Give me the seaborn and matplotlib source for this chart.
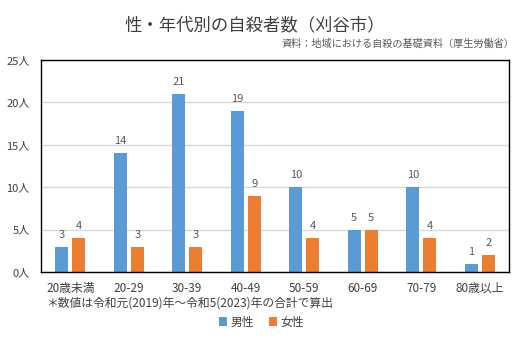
import matplotlib
matplotlib.use("Agg")
import matplotlib.pyplot as plt
import seaborn as sns
import pandas as pd

categories = ["20歳未満", "20-29", "30-39", "40-49", "50-59", "60-69", "70-79", "80歳以上"]
male = [3, 14, 21, 19, 10, 5, 10, 1]
female = [4, 3, 3, 9, 4, 5, 4, 2]
series_names = ["男性", "女性"]
yticks = [0, 5, 10, 15, 20, 25]

sns.set_theme(style="white")
plt.rcParams['font.family'] = ['Noto Sans CJK JP', 'DejaVu Sans']

df = pd.DataFrame({
    "cat": categories * 2,
    "val": male + female,
    "sex": [series_names[0]] * len(categories) + [series_names[1]] * len(categories),
})

fig = plt.figure(figsize=(5.23, 3.38), dpi=100)
ax = fig.add_axes([41/523, 1 - 272/338, (509 - 41)/523, (272 - 60)/338])

palette = {"男性": "#5B9BD5", "女性": "#ED7D31"}
sns.barplot(data=df, x="cat", y="val", hue="sex", palette=palette, ax=ax,
            width=0.58, gap=0.23, saturation=1, legend=True, linewidth=0)

txt = "#595959"
for cont in ax.containers:
    ax.bar_label(cont, padding=5, fontsize=8, color=txt)

ax.set_ylim(0, 25)
ax.set_yticks(yticks)
ax.set_yticklabels([f"{v}人" for v in yticks], fontsize=8, color="#404040")
ax.tick_params(axis="y", length=0, pad=8)
ax.tick_params(axis="x", length=0, pad=7, labelsize=8.5, labelcolor="#404040")
ax.set_xlabel("")
ax.set_ylabel("")
ax.yaxis.grid(True, color="#D9D9D9", linewidth=1)
ax.set_axisbelow(True)
for s in ax.spines.values():
    s.set_visible(True)
    s.set_color("black")
    s.set_linewidth(1)

handles, labels = ax.get_legend_handles_labels()
ax.get_legend().remove()
fig.legend(handles, labels, loc="center", bbox_to_anchor=(0.5, 1 - 322/338), ncol=2,
           frameon=False, fontsize=8.5, handlelength=0.7, handleheight=0.7,
           handletextpad=0.3, columnspacing=1.2, labelcolor="#404040")

fig.text(255/523, 1 - 25/338, "性・年代別の自殺者数（刈谷市）", ha="center", va="center",
         fontsize=12.5, color="#404040")
fig.text(514/523, 1 - 44/338, "資料：地域における自殺の基礎資料（厚生労働省）", ha="right",
         va="center", fontsize=7.3, color="#595959")
fig.text(46/523, 1 - 303/338, "＊数値は令和元(2019)年～令和5(2023)年の合計で算出", ha="left",
         va="center", fontsize=8.5, color="#404040")

fig.savefig("out.png", dpi=100, facecolor="white")
